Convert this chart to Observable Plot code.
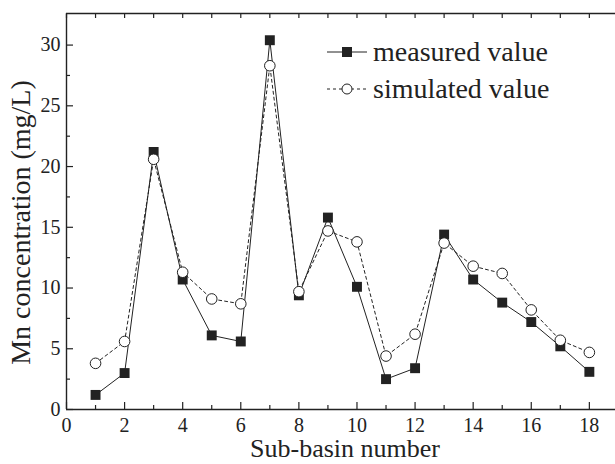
<!DOCTYPE html>
<html>
<head>
<meta charset="utf-8">
<script src="https://cdn.jsdelivr.net/npm/d3@7"></script>
<script src="https://cdn.jsdelivr.net/npm/@observablehq/plot@0.6"></script>
<style>
  html, body { margin: 0; padding: 0; background: #fff; overflow: hidden; }
  #wrap { position: relative; width: 615px; height: 464px; }
  #legend { position: absolute; left: 326px; top: 33px; font-size: 28px; color: #222; }
  .row { display: flex; align-items: center; height: 37px; }
  .row svg { margin-right: 5px; }
</style>
</head>
<body>
<div id="wrap">
  <div id="chart"></div>
  <div id="legend" style="font-family:'Liberation Serif', serif"></div>
</div>
<script>
const subBasins = [1, 2, 3, 4, 5, 6, 7, 8, 9, 10, 11, 12, 13, 14, 15, 16, 17, 18];
const measured = [1.2, 3.0, 21.2, 10.7, 6.1, 5.6, 30.4, 9.4, 15.8, 10.1, 2.5, 3.4, 14.4, 10.7, 8.8, 7.2, 5.2, 3.1];
const simulated = [3.8, 5.6, 20.6, 11.3, 9.1, 8.7, 28.3, 9.7, 14.7, 13.8, 4.4, 6.2, 13.7, 11.8, 11.2, 8.2, 5.7, 4.7];
const seriesNames = ["measured value", "simulated value"];
const xLabel = "Sub-basin number";
const yLabel = "Mn concentration (mg/L)";
const xMajorTicks = [0, 2, 4, 6, 8, 10, 12, 14, 16, 18];
const xMinorTicks = [1, 3, 5, 7, 9, 11, 13, 15, 17];
const xAllTicks = [0, 1, 2, 3, 4, 5, 6, 7, 8, 9, 10, 11, 12, 13, 14, 15, 16, 17, 18];
const yMajorTicks = [0, 5, 10, 15, 20, 25, 30];
const yMinorTicks = [2.5, 7.5, 12.5, 17.5, 22.5, 27.5];
const xDomain = [0, 18.9];
const yDomain = [0, 32.6];

const meas = subBasins.map((x, i) => ({x, y: measured[i]}));
const sim = subBasins.map((x, i) => ({x, y: simulated[i]}));

const ink = "#222";
const font = "Liberation Serif";

const chart = Plot.plot({
  width: 615,
  height: 464,
  marginLeft: 66,
  marginRight: 0,
  marginTop: 13,
  marginBottom: 55,
  style: {fontFamily: font, color: ink, background: "#fff", overflow: "visible"},
  x: {domain: xDomain},
  y: {domain: yDomain},
  marks: [
    Plot.axisX({ticks: xMajorTicks, tickSize: -7, tickPadding: 15, fontSize: 20, fontFamily: font, stroke: ink, strokeWidth: 1.2, label: null}),
    Plot.axisX({ticks: xMinorTicks, tickSize: -4, text: null, label: null, stroke: ink, strokeWidth: 1.2}),
    Plot.axisX({anchor: "top", ticks: xAllTicks, tickSize: -4, text: null, label: null, stroke: ink, strokeWidth: 1.2}),
    Plot.axisY({ticks: yMajorTicks, tickSize: -7, tickPadding: 13, fontSize: 20, fontFamily: font, stroke: ink, strokeWidth: 1.2, label: null}),
    Plot.axisY({ticks: yMinorTicks, tickSize: -4, text: null, label: null, stroke: ink, strokeWidth: 1.2}),
    Plot.text([xLabel], {frameAnchor: "bottom", textAnchor: "middle", dx: 4, dy: 47, lineAnchor: "bottom", fontSize: 26, fontFamily: font, fill: ink}),
    Plot.text([yLabel], {frameAnchor: "left", textAnchor: "middle", dx: -45, dy: 11, rotate: -90, lineAnchor: "middle", fontSize: 28, fontFamily: font, fill: ink}),
    Plot.ruleX([xDomain[0]], {stroke: ink, strokeWidth: 1.4}),
    Plot.ruleY([yDomain[0], yDomain[1]], {stroke: ink, strokeWidth: 1.4}),
    Plot.line(meas, {x: "x", y: "y", stroke: ink, strokeWidth: 1}),
    Plot.line(sim, {x: "x", y: "y", stroke: ink, strokeWidth: 1, strokeDasharray: "3,3"}),
    Plot.dot(meas, {x: "x", y: "y", symbol: "square", r: 5.6, fill: ink, stroke: "none"}),
    Plot.dot(sim, {x: "x", y: "y", symbol: "circle", r: 5.3, fill: "#fff", stroke: ink, strokeWidth: 1})
  ]
});
document.getElementById("chart").appendChild(chart);

const legend = document.getElementById("legend");
const icons = [
  `<svg width="42" height="20"><line x1="1" y1="10" x2="41" y2="10" stroke="${ink}" stroke-width="1"/><rect x="16" y="5" width="10" height="10" fill="${ink}"/></svg>`,
  `<svg width="42" height="20"><line x1="1" y1="10" x2="41" y2="10" stroke="${ink}" stroke-width="1" stroke-dasharray="3,3"/><circle cx="21" cy="10" r="5" fill="#fff" stroke="${ink}" stroke-width="1"/></svg>`
];
seriesNames.forEach((name, i) => {
  const row = document.createElement("div");
  row.className = "row";
  row.innerHTML = icons[i] + `<span>${name}</span>`;
  legend.appendChild(row);
});
</script>
</body>
</html>
